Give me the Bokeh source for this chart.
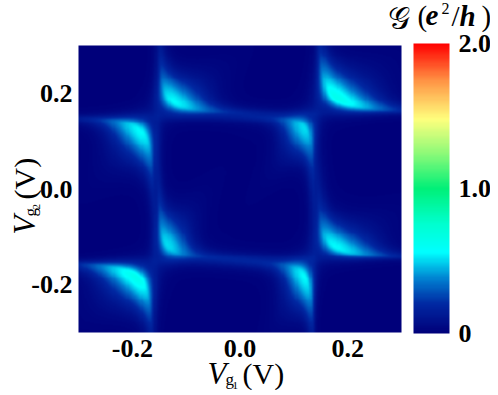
import numpy as np
from bokeh.plotting import figure
from bokeh.models import (LinearColorMapper, ColorBar, FixedTicker,
                          PrintfTickFormatter, Label, LinearAxis)
from bokeh.embed import file_html
from bokeh.resources import INLINE

# ---------------- data ----------------
vg1_range = [-0.3, 0.3]
vg2_range = [-0.3, 0.3]
x_ticks = [-0.2, 0.0, 0.2]
y_ticks = [-0.2, 0.0, 0.2]
cbar_ticks = [0, 1, 2]
cbar_labels = ["0", "1.0", "2.0"]
g_low, g_high = 0.0, 2.0

# positions of the resonance lines (V)
line_vg1 = [-0.156, 0.139]
line_vg2 = [0.155, -0.149]

# hyperbolic arcs around each crossing: crossing indices, branch side,
# apex position (V) and peak conductance (e^2/h)
arc_i = [0, 0, 1, 1, 0, 0, 1, 1]
arc_j = [0, 0, 0, 0, 1, 1, 1, 1]
arc_side = [1, -1, 1, -1, 1, -1, 1, -1]
arc_apex_x = [-0.123, -0.185, 0.182, 0.120, -0.135, -0.194, 0.179, 0.120]
arc_apex_y = [0.183, 0.120, 0.190, 0.127, -0.117, -0.184, -0.121, -0.184]
arc_peak = [0.55, 0.55, 0.62, 0.50, 0.50, 0.62, 0.55, 0.55]
line_level = 0.18

# colour map anchors (position, rgb)
cmap_pos = [0.0, 0.1, 0.18, 0.28, 0.38, 0.5, 0.62, 0.74, 0.87, 1.0]
cmap_rgb = [(0, 0, 122), (0, 40, 162), (0, 120, 205), (0, 255, 255),
            (0, 255, 205), (0, 240, 120), (140, 250, 120), (255, 255, 125),
            (255, 150, 70), (255, 0, 0)]

# ---------------- build the map ----------------
N = 300
xs = np.linspace(vg1_range[0], vg1_range[1], N)
ys = np.linspace(vg2_range[0], vg2_range[1], N)
X, Y = np.meshgrid(xs, ys)
G = np.zeros_like(X)
for k in range(len(arc_peak)):
    x0 = line_vg1[arc_i[k]]
    y0 = line_vg2[arc_j[k]]
    s = arc_side[k]
    a = abs(arc_apex_x[k] - x0)
    b = abs(arc_apex_y[k] - y0)
    P = s * (X - x0) / a
    Q = s * (Y - y0) / b
    S = (P + Q) / np.sqrt(2)
    T = (P - Q) / np.sqrt(2)
    D = (S - np.sqrt(T ** 2 + 2)) * 0.5 * (a + b)
    R = np.sqrt((X - x0) ** 2 + (Y - y0) ** 2)
    env = np.exp(-(T / 1.8) ** 2)
    tail = np.exp(-(R / 0.22) ** 2)
    w_in = 0.012 + 0.011 * env
    w_out = 0.017 + 0.03 * env
    W = np.where(D > 0, w_out, w_in)
    amp = arc_peak[k] * env + line_level * tail * (1 - env)
    G += amp / (1 + (D / W) ** 2) ** 1.5

tpos = np.linspace(0, 1, 256)
cm = np.array(cmap_rgb, dtype=float)
palette = []
for t in tpos:
    r = np.interp(t, cmap_pos, cm[:, 0])
    g = np.interp(t, cmap_pos, cm[:, 1])
    bb = np.interp(t, cmap_pos, cm[:, 2])
    palette.append("#%02x%02x%02x" % (int(round(r)), int(round(g)), int(round(bb))))

mapper = LinearColorMapper(palette=palette, low=g_low, high=g_high)

# ---------------- layout (pixels) ----------------
W_FIG, H_FIG = 490, 390
FR_L, FR_R, FR_T, FR_B = 78, 401, 45, 332   # heat-map box in page pixels
sx = (FR_R - FR_L) / (vg1_range[1] - vg1_range[0])
sy = (FR_B - FR_T) / (vg2_range[1] - vg2_range[0])
x_start = vg1_range[0] - FR_L / sx
x_end = vg1_range[1] + (W_FIG - FR_R) / sx
y_end = vg2_range[1] + FR_T / sy
y_start = vg2_range[0] - (H_FIG - FR_B) / sy


def px(v):
    return x_start + v / sx


def py(v):
    return y_end - v / sy


p = figure(width=W_FIG, height=H_FIG, x_range=(x_start, x_end), y_range=(y_start, y_end),
           output_backend="svg", toolbar_location=None,
           x_axis_location=None, y_axis_location=None,
           min_border=0, min_border_left=0, min_border_right=0,
           min_border_top=0, min_border_bottom=0)
p.image(image=[G], x=vg1_range[0], y=vg2_range[0],
        dw=vg1_range[1] - vg1_range[0], dh=vg2_range[1] - vg2_range[0],
        color_mapper=mapper)

p.grid.visible = False
p.outline_line_color = None
p.background_fill_color = "white"
p.border_fill_color = "white"

tick_font = "Liberation Serif"
xax = LinearAxis(fixed_location=vg2_range[0], ticker=FixedTicker(ticks=x_ticks))
yax = LinearAxis(fixed_location=vg1_range[0], ticker=FixedTicker(ticks=y_ticks))
for ax in (xax, yax):
    ax.axis_line_color = None
    ax.major_tick_line_color = None
    ax.minor_tick_line_color = None
    ax.major_tick_out = 0
    ax.major_tick_in = 0
    ax.minor_tick_out = 0
    ax.formatter = PrintfTickFormatter(format="%.1f")
    ax.major_label_text_font = tick_font
    ax.major_label_text_font_style = "bold"
    ax.major_label_text_font_size = "26px"
    ax.major_label_text_color = "black"
xax.major_label_standoff = 7
yax.major_label_standoff = 6
p.add_layout(xax, "below")
p.add_layout(yax, "left")

cb = ColorBar(color_mapper=mapper, ticker=FixedTicker(ticks=cbar_ticks),
              major_label_overrides={t: l for t, l in zip(cbar_ticks, cbar_labels)},
              width=36, height=290, margin=0, padding=0,
              location=(413, H_FIG - 333),
              label_standoff=9, major_tick_line_color=None, major_tick_out=0,
              bar_line_color=None, background_fill_alpha=0,
              major_label_text_font=tick_font, major_label_text_font_style="bold",
              major_label_text_font_size="26px", major_label_text_color="black")
p.add_layout(cb, "center")


def lab(text, x, y, size, style="normal", angle=0.0, font="Liberation Serif"):
    p.add_layout(Label(x=px(x), y=py(y), text=text, text_font=font,
                       text_font_size=size, text_font_style=style,
                       text_align="left", text_baseline="middle",
                       angle=angle, text_color="black"))


# x axis label: V_g1 (V)   (positions are text middles, page pixels)
lab("V", 207, 373, "31px", "italic")
lab("g", 225, 379, "17px")
lab("1", 232, 385, "11px")
lab("(V)", 242, 373, "30px")

# y axis label: V_g2 (V), rotated
ang = np.pi / 2
lab("V", 24, 234, "31px", "italic", ang)
lab("g", 30, 216, "17px", "normal", ang)
lab("2", 36, 209, "11px", "normal", ang)
lab("(V)", 24, 199, "30px", "normal", ang)

# colour bar title: G (e^2/h)
lab("\U0001D4A2", 387, 17, "31px", "normal", 0.0, "DejaVu Sans")
lab("(", 417, 15, "29px")
lab("e", 425, 15, "29px", "bold italic")
lab("2", 441, 8, "16px")
lab("/", 451, 15, "29px")
lab("h", 459, 15, "29px", "bold italic")
lab(")", 481, 15, "29px")

open("out.html", "w").write(file_html(p, INLINE))
